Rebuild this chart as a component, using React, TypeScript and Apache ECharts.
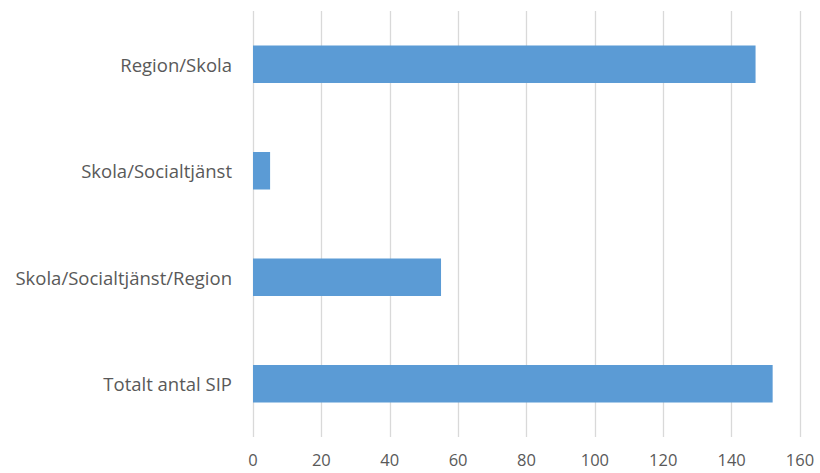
import React, { useEffect, useRef } from "react";
import * as echarts from "echarts";

const categories = ["Totalt antal SIP", "Skola/Socialtjänst/Region", "Skola/Socialtjänst", "Region/Skola"];
const values = [152, 55, 5, 147];
const xMin = 0;
const xMax = 160;
const xStep = 20;

export default function App() {
  const ref = useRef<HTMLDivElement>(null);
  useEffect(() => {
    if (!ref.current) return;
    const chart = echarts.init(ref.current, null, { renderer: "svg" });
    chart.setOption({
      animation: false,
      backgroundColor: "#ffffff",
      grid: { left: 253, right: 20, top: 11, bottom: 36, containLabel: false },
      xAxis: {
        type: "value",
        min: xMin,
        max: xMax,
        interval: xStep,
        axisLine: { show: false },
        axisTick: { show: false },
        splitLine: { show: true, lineStyle: { color: "#d9d9d9", width: 1.3 } },
        axisLabel: { color: "#595959", fontSize: 16.5, fontFamily: "Open Sans", margin: 14 },
      },
      yAxis: {
        type: "category",
        data: categories,
        axisLine: { show: false },
        axisTick: { show: false },
        axisLabel: { color: "#595959", fontSize: 18.5, fontFamily: "Open Sans", margin: 21 },
      },
      series: [
        {
          type: "bar",
          data: values,
          barWidth: "35%",
          itemStyle: { color: "#5B9BD5" },
        },
      ],
    });
    return () => chart.dispose();
  }, []);
  return <div ref={ref} style={{ position: "fixed", left: 0, top: 0, width: 820, height: 473 }} />;
}
